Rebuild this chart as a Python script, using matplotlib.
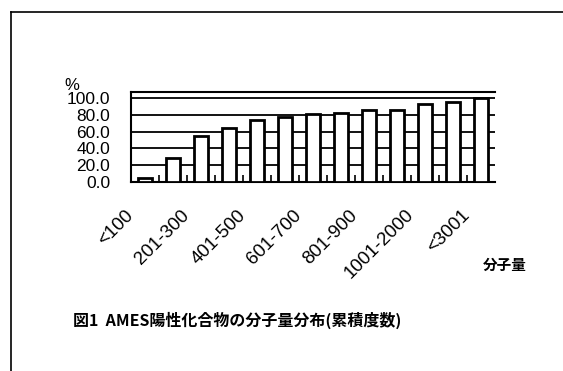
"""Cumulative molecular-weight distribution of AMES-positive compounds."""
import matplotlib
matplotlib.use("Agg")
import matplotlib.pyplot as plt
import matplotlib.transforms as mtransforms
from matplotlib.lines import Line2D
import numpy as np

# molecular-weight bins and cumulative share (%)
bins = ["<100", "101-200", "201-300", "301-400", "401-500", "501-600",
        "601-700", "701-800", "801-900", "901-1000", "1001-2000",
        "2001-3000", "<3001"]
cum_pct = [4.8, 28.6, 54.8, 64.5, 73.8, 77.4, 80.6, 81.7, 85.7, 86.0,
           92.9, 95.2, 100.0]
y_ticks = [0, 20, 40, 60, 80, 100]

TICK_FONT = ["Liberation Sans", "DejaVu Sans"]
CJK_FONT = ["Noto Sans CJK JP", "DejaVu Sans"]

fig = plt.figure(figsize=(5.63, 3.71), dpi=100)
ax = fig.add_axes([0.2327, 0.5094, 0.879 - 0.2327, 0.752 - 0.5094])

x = np.arange(len(bins))
ax.bar(x, cum_pct, width=0.5, color="white", edgecolor="black",
       linewidth=2.0, zorder=3)

ax.set_xlim(-0.5, len(bins) - 0.5)
ax.set_ylim(0, 107)
ax.set_yticks(y_ticks)
ax.set_yticklabels([f"{v:.1f}" for v in y_ticks], family=TICK_FONT,
                   fontsize=12.5)
ax.yaxis.grid(True, color="black", linewidth=1.3, zorder=0)
ax.set_axisbelow(True)
ax.tick_params(axis="y", length=0, pad=15)

# labels only on every other bin, small inward ticks between bins
ax.set_xticks(x[::2])
ax.set_xticklabels(bins[::2], family=TICK_FONT, fontsize=13.5,
                   rotation=45, ha="right", va="center",
                   rotation_mode="anchor")
ax.tick_params(axis="x", length=0, pad=0)
ax.set_xticks(x[:-1] + 0.5, minor=True)
ax.tick_params(axis="x", which="minor", direction="in", length=5,
               width=1.2, color="black")
shift = mtransforms.ScaledTranslation(-10 / 72, -22 / 72, fig.dpi_scale_trans)
for lbl in ax.get_xticklabels():
    lbl.set_transform(lbl.get_transform() + shift)

for side in ("left", "bottom", "top"):
    ax.spines[side].set_linewidth(1.5)
ax.spines["right"].set_visible(False)

ax.text(-0.163, 1.075, "%", transform=ax.transAxes, fontsize=12,
        family=TICK_FONT, ha="center", va="center")

fig.text(505 / 563, 1 - 265 / 371, "分子量", family=CJK_FONT,
         fontsize=10.5, fontweight="bold", ha="center", va="center")
fig.text(237 / 563, 1 - 320 / 371, "図1  AMES陽性化合物の分子量分布(累積度数)",
         family=CJK_FONT, fontsize=11.5, fontweight="bold",
         ha="center", va="center")

# page frame: top and left rules only
fig.add_artist(Line2D([11 / 563, 1], [1 - 12 / 371] * 2, color="black",
                      linewidth=1.2, transform=fig.transFigure))
fig.add_artist(Line2D([11 / 563] * 2, [0, 1 - 12 / 371], color="black",
                      linewidth=1.2, transform=fig.transFigure))

fig.savefig("out.png", dpi=100)
